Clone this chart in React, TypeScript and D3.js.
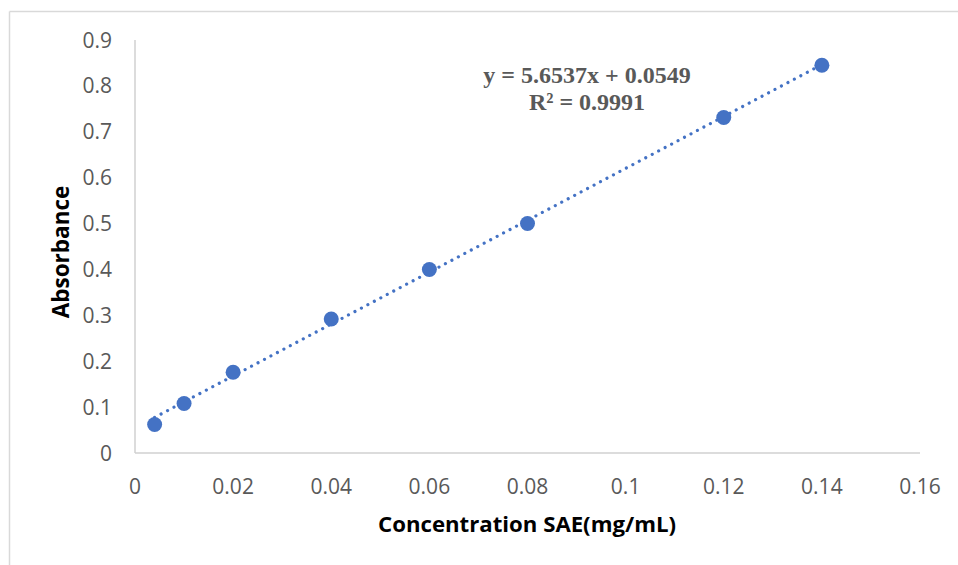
import React from "react";
import * as d3 from "d3";

// Calibration data: concentration (mg/mL) vs absorbance
const concentrations = [0.004, 0.01, 0.02, 0.04, 0.06, 0.08, 0.12, 0.14];
const absorbances = [0.062, 0.108, 0.176, 0.292, 0.4, 0.5, 0.731, 0.845];

const xTicks = [0, 0.02, 0.04, 0.06, 0.08, 0.1, 0.12, 0.14, 0.16];
const yTicks = [0, 0.1, 0.2, 0.3, 0.4, 0.5, 0.6, 0.7, 0.8, 0.9];

// Linear fit reported on the chart
const slope = 5.6537;
const intercept = 0.0549;
const equationText = "y = 5.6537x + 0.0549";
const r2Text = "R² = 0.9991";

const xTitle = "Concentration SAE(mg/mL)";
const yTitle = "Absorbance";

const W = 958;
const H = 565;
const plot = { left: 135, right: 920, top: 40, bottom: 453 };

export default function App() {
  const x = d3.scaleLinear().domain([0, 0.16]).range([plot.left, plot.right]);
  const y = d3.scaleLinear().domain([0, 0.9]).range([plot.bottom, plot.top]);

  const xMin = d3.min(concentrations) as number;
  const xMax = d3.max(concentrations) as number;
  const fitLine = d3
    .line<number>()
    .x((d) => x(d))
    .y((d) => y(slope * d + intercept))([xMin, xMax]) as string;

  const tickFont = "'Open Sans', sans-serif";
  const axisColor = "#d0d0d0";
  const serif = "'Liberation Serif', 'Times New Roman', serif";

  return (
    <svg
      width={W}
      height={H}
      style={{ position: "absolute", left: 0, top: 0, background: "#fff" }}
    >
      {/* chart frame */}
      <line x1={9.5} y1={11.5} x2={W} y2={11.5} stroke="#d9d9d9" strokeWidth={1.5} />
      <line x1={9.5} y1={11.5} x2={9.5} y2={H} stroke="#d9d9d9" strokeWidth={1.5} />

      {/* axes */}
      <line x1={plot.left} y1={plot.top} x2={plot.left} y2={plot.bottom} stroke={axisColor} strokeWidth={1.5} />
      <line x1={plot.left} y1={plot.bottom} x2={plot.right} y2={plot.bottom} stroke={axisColor} strokeWidth={1.5} />

      {/* y tick labels */}
      {yTicks.map((t) => (
        <text
          key={"y" + t}
          x={112}
          y={y(t)}
          dy="0.36em"
          textAnchor="end"
          fontFamily={tickFont}
          fontSize={21}
          fill="#595959"
        >
          {String(t)}
        </text>
      ))}

      {/* x tick labels */}
      {xTicks.map((t) => (
        <text
          key={"x" + t}
          x={x(t)}
          y={486}
          dy="0.36em"
          textAnchor="middle"
          fontFamily={tickFont}
          fontSize={21}
          fill="#595959"
        >
          {String(t)}
        </text>
      ))}

      {/* trendline */}
      <path
        d={fitLine}
        fill="none"
        stroke="#4472C4"
        strokeWidth={3.2}
        strokeLinecap="round"
        strokeDasharray="0.01 7.3"
      />

      {/* data points */}
      {concentrations.map((c, i) => (
        <circle key={i} cx={x(c)} cy={y(absorbances[i])} r={7.5} fill="#4472C4" />
      ))}

      {/* regression annotation */}
      <text x={587} y={83} textAnchor="middle" fontFamily={serif} fontWeight="bold" fontSize={24} fill="#595959">
        {equationText}
      </text>
      <text x={587} y={110} textAnchor="middle" fontFamily={serif} fontWeight="bold" fontSize={24} fill="#595959">
        {r2Text}
      </text>

      {/* axis titles */}
      <text
        x={527}
        y={532}
        textAnchor="middle"
        fontFamily={tickFont}
        fontWeight="bold"
        fontSize={22.2}
        fill="#000"
      >
        {xTitle}
      </text>
      <text
        transform={`translate(69, 252) rotate(-90)`}
        textAnchor="middle"
        fontFamily={tickFont}
        fontWeight="bold"
        fontSize={22.5}
        fill="#000"
      >
        {yTitle}
      </text>
    </svg>
  );
}
